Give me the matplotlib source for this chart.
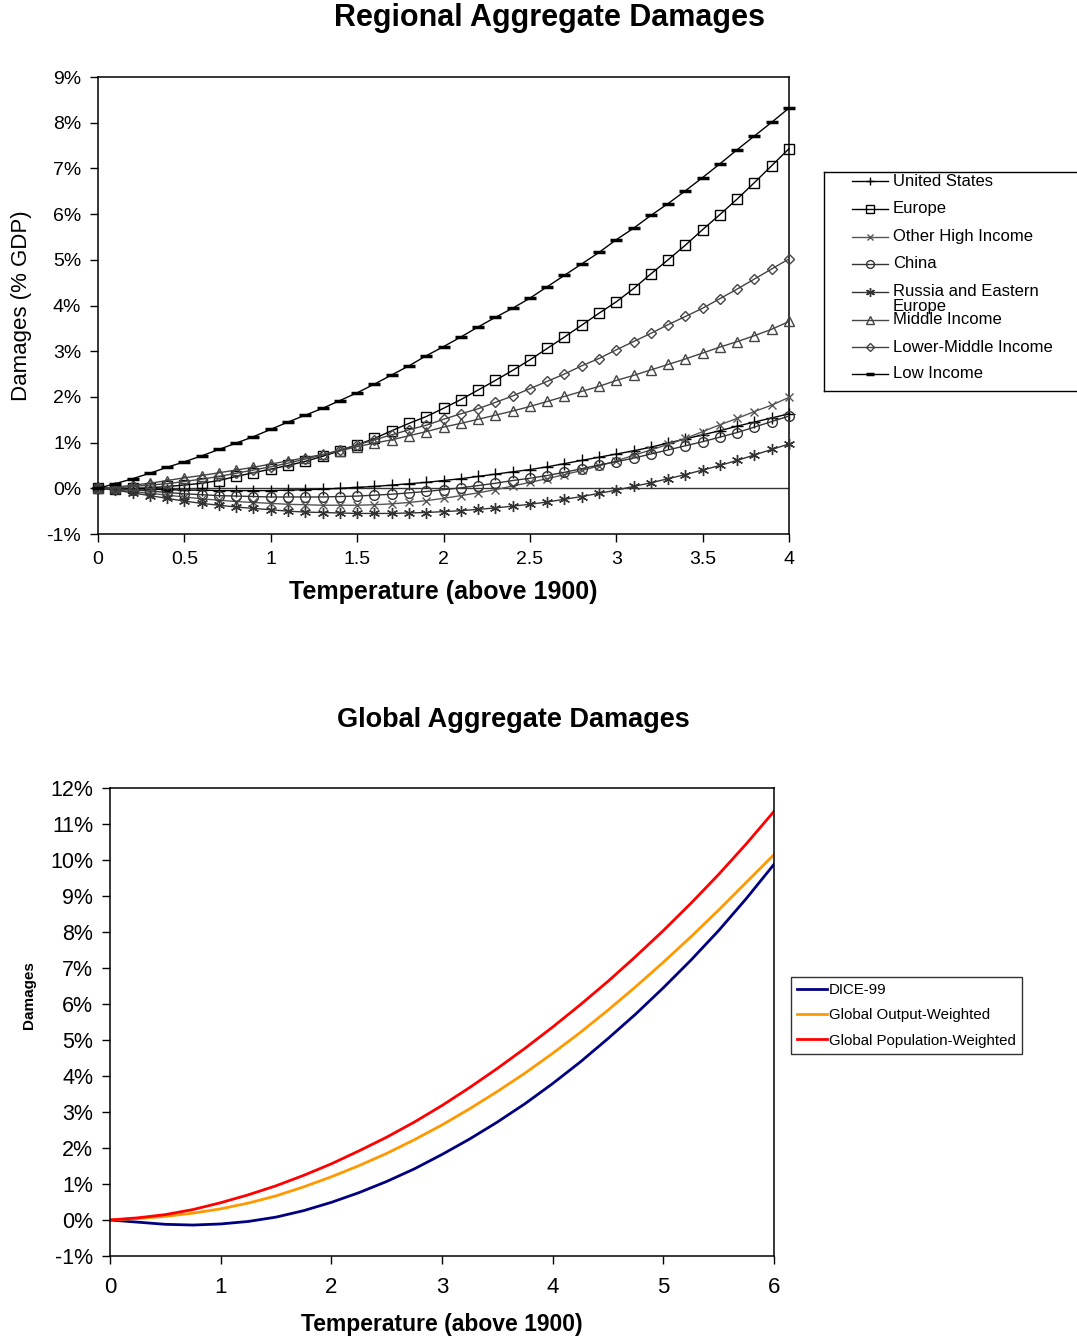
import numpy as np
import matplotlib
matplotlib.use("Agg")
from matplotlib import pyplot as plt

plt.rcParams['font.family'] = ['Liberation Sans', 'DejaVu Sans']

# regional damages, % of GDP, temperature 0..4 in steps of 0.1
temp_reg = np.linspace(0, 4, 41)

us = [0, 0, -0.01, -0.02, -0.03, -0.04, -0.04, -0.05, -0.05, -0.05, -0.05,
      -0.04, -0.03, -0.02, 0.0, 0.02, 0.04, 0.07, 0.10, 0.13, 0.17,
      0.21, 0.26, 0.31, 0.36, 0.41, 0.47, 0.54, 0.61, 0.68, 0.75,
      0.82, 0.90, 0.99, 1.08, 1.17, 1.26, 1.36, 1.45, 1.54, 1.63]
europe = [0, -0.01, 0.0, 0.01, 0.04, 0.07, 0.11, 0.17, 0.26, 0.34, 0.42,
          0.50, 0.59, 0.70, 0.82, 0.95, 1.09, 1.26, 1.42, 1.57, 1.75,
          1.94, 2.15, 2.36, 2.58, 2.81, 3.06, 3.31, 3.57, 3.83, 4.08,
          4.37, 4.69, 5.00, 5.32, 5.66, 5.99, 6.33, 6.69, 7.06, 7.43]
other_high = [0, -0.03, -0.07, -0.11, -0.15, -0.19, -0.23, -0.26, -0.29, -0.31, -0.33,
              -0.35, -0.36, -0.37, -0.37, -0.37, -0.36, -0.34, -0.31, -0.27, -0.22,
              -0.16, -0.10, -0.03, 0.05, 0.13, 0.21, 0.30, 0.39, 0.49, 0.60,
              0.72, 0.84, 0.96, 1.09, 1.24, 1.39, 1.53, 1.68, 1.82, 1.99]
china = [0, -0.01, -0.03, -0.06, -0.09, -0.12, -0.14, -0.16, -0.17, -0.18, -0.19,
         -0.19, -0.19, -0.19, -0.18, -0.17, -0.15, -0.13, -0.10, -0.07, -0.03,
         0.01, 0.06, 0.11, 0.17, 0.22, 0.28, 0.35, 0.43, 0.51, 0.58,
         0.66, 0.75, 0.84, 0.93, 1.02, 1.12, 1.22, 1.34, 1.46, 1.58]
russia = [0, -0.04, -0.10, -0.16, -0.22, -0.28, -0.33, -0.37, -0.41, -0.44, -0.47,
          -0.50, -0.52, -0.53, -0.54, -0.55, -0.55, -0.55, -0.54, -0.53, -0.51,
          -0.49, -0.46, -0.43, -0.39, -0.35, -0.30, -0.24, -0.18, -0.11, -0.04,
          0.04, 0.12, 0.21, 0.30, 0.40, 0.50, 0.61, 0.73, 0.85, 0.97]
middle = [0, 0.02, 0.07, 0.11, 0.17, 0.23, 0.28, 0.34, 0.40, 0.46, 0.53,
          0.60, 0.67, 0.74, 0.82, 0.91, 0.99, 1.06, 1.15, 1.24, 1.34,
          1.42, 1.51, 1.60, 1.69, 1.79, 1.90, 2.01, 2.12, 2.23, 2.36,
          2.47, 2.59, 2.71, 2.83, 2.96, 3.09, 3.21, 3.34, 3.48, 3.65]
lower_middle = [0, 0.01, 0.04, 0.07, 0.10, 0.15, 0.20, 0.26, 0.33, 0.40, 0.47,
                0.55, 0.64, 0.73, 0.84, 0.95, 1.06, 1.17, 1.28, 1.38, 1.51,
                1.63, 1.74, 1.88, 2.02, 2.18, 2.34, 2.50, 2.68, 2.84, 3.03,
                3.21, 3.39, 3.58, 3.76, 3.94, 4.15, 4.36, 4.58, 4.80, 5.02]
low = [0, 0.10, 0.21, 0.33, 0.46, 0.58, 0.71, 0.85, 0.99, 1.13, 1.29,
       1.45, 1.60, 1.75, 1.92, 2.09, 2.28, 2.48, 2.68, 2.90, 3.10,
       3.31, 3.53, 3.74, 3.94, 4.16, 4.41, 4.66, 4.91, 5.16, 5.44,
       5.69, 5.97, 6.23, 6.51, 6.80, 7.10, 7.41, 7.71, 8.01, 8.32]

reg_names = ["United States", "Europe", "Other High Income", "China",
             "Russia and Eastern Europe", "Middle Income", "Lower-Middle Income", "Low Income"]
reg_values = [us, europe, other_high, china, russia, middle, lower_middle, low]

# global damages, temperature 0..6 in steps of 0.25
temp_glob = np.linspace(0, 6, 25)
dice99 = [0, -0.06, -0.12, -0.14, -0.11, -0.04, 0.08, 0.26, 0.49, 0.76, 1.07, 1.42, 1.82,
          2.25, 2.72, 3.23, 3.79, 4.39, 5.04, 5.72, 6.45, 7.22, 8.04, 8.93, 9.88]
output_w = [0, 0.04, 0.10, 0.19, 0.31, 0.47, 0.67, 0.92, 1.20, 1.51, 1.85, 2.23, 2.64,
            3.09, 3.57, 4.08, 4.63, 5.21, 5.83, 6.48, 7.16, 7.87, 8.61, 9.38, 10.15]
population_w = [0, 0.06, 0.15, 0.29, 0.48, 0.70, 0.95, 1.24, 1.56, 1.92, 2.30, 2.72, 3.18,
                3.68, 4.21, 4.77, 5.36, 5.98, 6.63, 7.32, 8.04, 8.80, 9.60, 10.45, 11.35]
glob_names = ["DICE-99", "Global Output-Weighted", "Global Population-Weighted"]
glob_colors = ["#000080", "#FF9900", "#FF0000"]

styles = [
    dict(color="black", marker="+", ms=8, mew=1.0),
    dict(color="black", marker="s", ms=7, mfc="none", mew=1.0),
    dict(color="#555555", marker="x", ms=6, mew=1.0),
    dict(color="#333333", marker="o", ms=7, mfc="none", mew=1.0),
    dict(color="#333333", marker=(6, 2, 0), ms=8, mew=1.0),
    dict(color="#444444", marker="^", ms=7, mfc="none", mew=1.0),
    dict(color="#444444", marker="D", ms=5, mfc="none", mew=1.0),
    dict(color="black", marker="_", ms=8, mew=2.5),
]

W, H = 1077, 1340
fig = plt.figure(figsize=(W / 100, H / 100), dpi=100)
fig.patch.set_facecolor("white")

# ---- regional panel ----
ax = fig.add_axes([98 / W, 1 - 534 / H, 691 / W, 457 / H])
ax.axhline(0, color="#333333", lw=1.0, zorder=1)
for vals, st in zip(reg_values, styles):
    ax.plot(temp_reg, vals, lw=1.0, clip_on=False, zorder=3, **st)
ax.set_xlim(0, 4)
ax.set_ylim(-1, 9)
ax.set_xticks(np.arange(0, 4.01, 0.5))
ax.set_xticklabels(["0", "0.5", "1", "1.5", "2", "2.5", "3", "3.5", "4"])
ax.set_yticks(range(-1, 10))
ax.set_yticklabels([f"{v}%" for v in range(-1, 10)])
ax.tick_params(direction="out", length=6, width=1, labelsize=14, pad=6)
for sp in ax.spines.values():
    sp.set_linewidth(1.1)
ax.set_xlabel("Temperature (above 1900)", fontsize=18, fontweight="bold", labelpad=9)
ax.set_ylabel("Damages (% GDP)", fontsize=16)
ax.yaxis.set_label_coords(-0.095, 0.5)
fig.text(549 / W, 1 - 18 / H, "Regional Aggregate Damages", ha="center", va="center",
         fontsize=22, fontweight="bold")

# hand-built legend box for the regional panel
lax = fig.add_axes([824 / W, 1 - 391 / H, 253 / W, 219 / H])
lax.set_xlim(0, 253)
lax.set_ylim(219, 0)
lax.set_xticks([])
lax.set_yticks([])
lax.spines["right"].set_visible(False)
for sp in lax.spines.values():
    sp.set_linewidth(1.0)
row_y = [9, 37, 65, 92, 120, 148, 175, 202]
for name, st, y in zip(reg_names, styles, row_y):
    lst = dict(st)
    lst["ms"] = st["ms"] * 0.8
    lax.plot([28, 64], [y, y], lw=1.0, color=st["color"])
    lax.plot([46], [y], ls="none", **lst)
    if name.startswith("Russia"):
        lax.text(69, y, "Russia and Eastern", va="center", ha="left", fontsize=12)
        lax.text(69, y + 15, "Europe", va="center", ha="left", fontsize=12)
    else:
        lax.text(69, y, name, va="center", ha="left", fontsize=12)

# ---- global panel ----
ax2 = fig.add_axes([110 / W, 1 - 1256 / H, 664 / W, 468 / H])
for vals, name, col in zip([dice99, output_w, population_w], glob_names, glob_colors):
    ax2.plot(temp_glob, vals, color=col, lw=2.0, label=name)
ax2.set_xlim(0, 6)
ax2.set_ylim(-1, 12)
ax2.set_xticks(range(0, 7))
ax2.set_yticks(range(-1, 13))
ax2.set_yticklabels([f"{v}%" for v in range(-1, 13)])
ax2.tick_params(direction="out", length=6, width=1, labelsize=15.5, pad=6)
ax2.tick_params(axis="x", pad=9, labelsize=16)
for sp in ax2.spines.values():
    sp.set_linewidth(1.1)
ax2.set_xlabel("Temperature (above 1900)", fontsize=16.5, fontweight="bold", labelpad=11)
ax2.set_ylabel("Damages", fontsize=11, fontweight="bold")
ax2.yaxis.set_label_coords(-0.111, 0.558)
fig.text(513 / W, 1 - 720 / H, "Global Aggregate Damages", ha="center", va="center",
         fontsize=19.5, fontweight="bold")

leg = ax2.legend(loc="upper left", bbox_to_anchor=(791 / W, 1 - 977 / H),
                 bbox_transform=fig.transFigure, fontsize=10.8, frameon=True,
                 fancybox=False, edgecolor="black", handlelength=2.0,
                 handletextpad=0.15, borderpad=0.4, labelspacing=0.75,
                 borderaxespad=0)
leg.get_frame().set_linewidth(1.0)

fig.savefig("out.png", dpi=100, facecolor="white")
